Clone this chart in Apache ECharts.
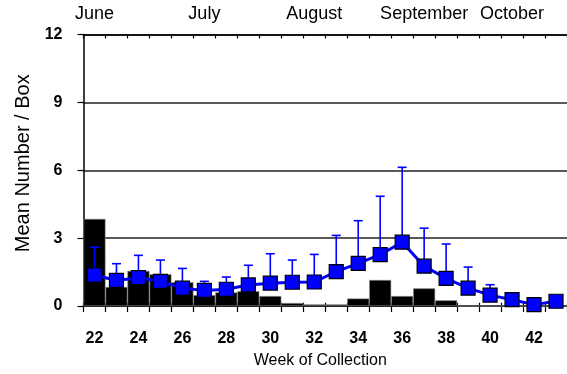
<!DOCTYPE html>
<html><head><meta charset="utf-8">
<script src="https://cdn.jsdelivr.net/npm/echarts@6/dist/echarts.min.js"></script>
<style>html,body{margin:0;padding:0;background:#fff}#c{width:567px;height:374px}</style>
</head><body><div id="c"></div>
<script>
const weeks = [22,23,24,25,26,27,28,29,30,31,32,33,34,35,36,37,38,39,40,41,42,43];
const boxCounts = [3.85,0.84,1.55,1.4,1.05,0.48,0.6,0.65,0.44,0.13,0.07,0.07,0.33,1.15,0.44,0.78,0.25,0,0,0,0,0];
const meanValues = [1.37,1.13,1.25,1.09,0.79,0.69,0.74,0.93,1.01,1.05,1.06,1.52,1.88,2.27,2.82,1.76,1.22,0.79,0.48,0.28,0.06,0.21];
const upperValues = [2.60,1.87,2.24,2.03,1.66,1.09,1.28,1.80,2.31,2.03,2.28,3.12,3.77,4.85,6.13,3.44,2.74,1.72,0.94,null,null,null];
const monthNames = ['June','July','August','September','October'];
const monthWeeks = [22,27,32,37,41];
const yMin = 0, yMax = 12, yStep = 3;

const FONT = 'Arial, "Liberation Sans", sans-serif';
const cats = weeks.map(String);
const topLabels = weeks.map(w => { const k = monthWeeks.indexOf(w); return k >= 0 ? monthNames[k] : ''; });
const gridPos = {left: 83.5, top: 34.5, right: -9.3, bottom: 67.3};

const chart = echarts.init(document.getElementById('c'), null, {renderer: 'canvas'});
chart.setOption({
  animation: false,
  backgroundColor: '#fff',
  grid: [Object.assign({}, gridPos), Object.assign({}, gridPos)],
  xAxis: [
    {type: 'category', data: cats, gridIndex: 0, position: 'bottom',
     name: 'Week of Collection', nameLocation: 'middle', nameGap: 47,
     nameTextStyle: {fontFamily: FONT, fontSize: 16, color: '#000', padding: [0, 10, 0, 0]},
     axisLine: {lineStyle: {color: '#000', width: 1.5}},
     axisTick: {show: true, interval: 0, length: 6, lineStyle: {color: '#000', width: 1.2}},
     axisLabel: {interval: 1, margin: 25, fontFamily: FONT, fontSize: 16, fontWeight: 'bold', color: '#000'}},
    {type: 'category', data: topLabels, gridIndex: 0, position: 'top',
     axisLine: {lineStyle: {color: '#000', width: 1.5}},
     axisTick: {show: true, interval: 0, inside: true, length: 4, lineStyle: {color: '#000', width: 1.2}},
     axisLabel: {interval: 0, margin: 11, fontFamily: FONT, fontSize: 18, color: '#000'}},
    {type: 'category', data: cats, gridIndex: 1, position: 'top',
     axisLine: {show: false},
     axisTick: {show: true, interval: 0, length: 4, lineStyle: {color: '#000', width: 1.2}},
     axisLabel: {show: false}}
  ],
  yAxis: [
    {type: 'value', gridIndex: 0, min: yMin, max: yMax, interval: yStep,
     name: 'Mean Number / Box', nameLocation: 'middle', nameGap: 49,
     nameTextStyle: {fontFamily: FONT, fontSize: 20, color: '#000', padding: [0, 0, 0, 14]},
     axisLine: {show: true, lineStyle: {color: '#000', width: 1.5}},
     axisTick: {show: true, length: 6, lineStyle: {color: '#000', width: 1.2}},
     axisLabel: {margin: 21, fontFamily: FONT, fontSize: 16, fontWeight: 'bold', color: '#000'},
     splitLine: {show: true, lineStyle: {color: '#222', width: 1.5}}},
    {type: 'value', gridIndex: 1, min: yMin, max: yMax, interval: yStep, show: false}
  ],
  series: [
    {type: 'bar', xAxisIndex: 0, yAxisIndex: 0, data: boxCounts, barCategoryGap: '0%',
     itemStyle: {color: '#000', borderColor: '#888', borderWidth: 0.6}, z: 2},
    {type: 'custom', xAxisIndex: 0, yAxisIndex: 0, z: 3,
     data: weeks.map((w, i) => [i, meanValues[i], upperValues[i]]),
     encode: {x: 0, y: [1, 2]},
     renderItem: function (params, api) {
       const u = api.value(2);
       if (u == null || isNaN(u)) return null;
       const p0 = api.coord([api.value(0), api.value(1)]);
       const p1 = api.coord([api.value(0), u]);
       const st = {stroke: '#0000ff', lineWidth: 1.6};
       return {type: 'group', children: [
         {type: 'line', shape: {x1: p0[0], y1: p0[1], x2: p1[0], y2: p1[1]}, style: st},
         {type: 'line', shape: {x1: p1[0] - 4.5, y1: p1[1], x2: p1[0] + 4.5, y2: p1[1]}, style: st}
       ]};
     }},
    {type: 'line', xAxisIndex: 0, yAxisIndex: 0, data: meanValues, z: 4,
     symbol: 'rect', symbolSize: 14,
     lineStyle: {color: '#0000ff', width: 3},
     itemStyle: {color: '#0000ff', borderColor: '#000', borderWidth: 1.2}}
  ]
});
</script></body></html>
